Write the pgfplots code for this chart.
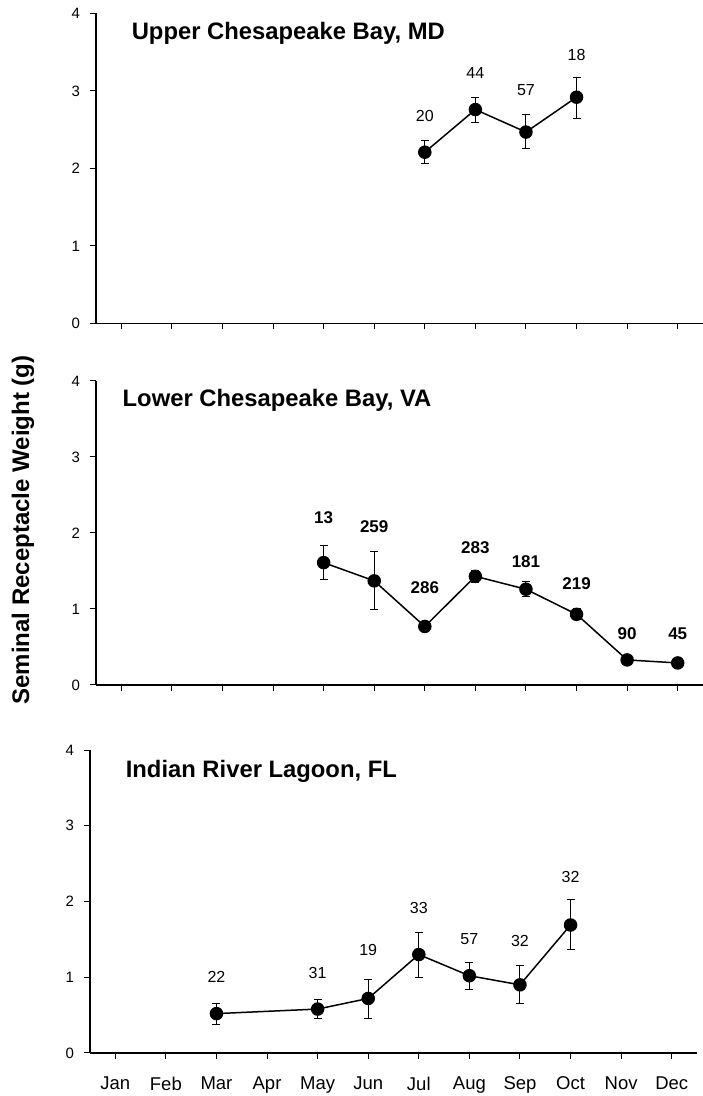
\documentclass[border=0pt]{standalone}
\usepackage{fontspec}
\setmainfont{Liberation Sans}
\usepackage{pgfplots}
\pgfplotsset{compat=1.18}
\usepackage{pgfplotstable}

% month, mean, +err, -err
\pgfplotstableread{
x y ep em
7 2.21 0.15 0.15
8 2.76 0.16 0.17
9 2.47 0.23 0.21
10 2.92 0.25 0.27
}\upperbay
\pgfplotstableread{
x y ep em
5 1.61 0.22 0.22
6 1.37 0.38 0.38
7 0.77 0.03 0.03
8 1.43 0.08 0.08
9 1.26 0.10 0.10
10 0.93 0.08 0.07
11 0.33 0.02 0.02
12 0.29 0.02 0.02
}\lowerbay
\pgfplotstableread{
x y ep em
3 0.52 0.14 0.15
5 0.58 0.12 0.12
6 0.72 0.25 0.26
7 1.30 0.29 0.30
8 1.02 0.17 0.18
9 0.90 0.25 0.24
10 1.69 0.33 0.32
}\indianriver

\pgfplotsset{
  panel/.style={
    scale only axis, width=303.5pt,
    xmin=0.5, xmax=12.5, ymin=0, ymax=4,
    axis x line=bottom, axis y line=left,
    axis line style={-, line width=0.6pt},
    xtick={1,...,12}, ytick={0,1,2,3,4},
    xticklabels={},
    tick align=outside, major tick length=3pt,
    tick style={black, line width=0.5pt},
    /pgf/number format/assume math mode=true,
    yticklabel style={font=\fontsize{7.5}{8}\selectfont, xshift=-1.5pt},
    clip=false,
  },
  series/.style={black, line width=0.75pt, mark=*, mark size=3pt,
    mark options={fill=black, draw=black, solid},
    error bars/.cd, y dir=both, y explicit,
    error bar style={line width=0.5pt, black},
    error mark options={rotate=90, mark size=2pt, line width=0.5pt, black}},
}
\tikzset{
  ttl/.style={anchor=west, inner sep=0pt, font=\bfseries\fontsize{11.9}{13}\selectfont},
  nl/.style={inner sep=0pt, font=\fontsize{8}{9}\selectfont},
  nlb/.style={inner sep=0pt, font=\bfseries\fontsize{8.5}{10}\selectfont},
}

\begin{document}
\begin{tikzpicture}
\useasboundingbox (0,0) rectangle (351pt,548pt);

\begin{axis}[panel, height=155pt, at={(48pt,386.25pt)}, anchor=south west]
\addplot+[series] table[x=x, y=y, y error plus=ep, y error minus=em] {\upperbay};
\node[ttl] at (axis cs:1.2,3.75) {Upper Chesapeake Bay, MD};
\node[nl] at (axis cs:7,2.68) {20};
\node[nl] at (axis cs:8,3.23) {44};
\node[nl] at (axis cs:9,3.01) {57};
\node[nl] at (axis cs:10,3.46) {18};
\end{axis}

\begin{axis}[panel, height=152pt, at={(48pt,205.5pt)}, anchor=south west]
\addplot+[series] table[x=x, y=y, y error plus=ep, y error minus=em] {\lowerbay};
\node[ttl] at (axis cs:1.02,3.74) {Lower Chesapeake Bay, VA};
\node[nlb] at (axis cs:5,2.20) {13};
\node[nlb] at (axis cs:6,2.09) {259};
\node[nlb] at (axis cs:7,1.28) {286};
\node[nlb] at (axis cs:8,1.81) {283};
\node[nlb] at (axis cs:9,1.62) {181};
\node[nlb] at (axis cs:10,1.33) {219};
\node[nlb] at (axis cs:11,0.68) {90};
\node[nlb] at (axis cs:12,0.67) {45};
\end{axis}

\begin{axis}[panel, height=151.5pt, at={(45pt,21.5pt)}, anchor=south west,
  xticklabels={Jan,Feb,Mar,Apr,May,Jun,Jul,Aug,Sep,Oct,Nov,Dec},
  xticklabel style={font=\fontsize{9.25}{10}\selectfont, yshift=-5.5pt}]
\addplot+[series] table[x=x, y=y, y error plus=ep, y error minus=em] {\indianriver};
\node[ttl] at (axis cs:1.2,3.72) {Indian River Lagoon, FL};
\node[nl] at (axis cs:3,1.01) {22};
\node[nl] at (axis cs:5,1.06) {31};
\node[nl] at (axis cs:6,1.36) {19};
\node[nl] at (axis cs:7,1.92) {33};
\node[nl] at (axis cs:8,1.51) {57};
\node[nl] at (axis cs:9,1.48) {32};
\node[nl] at (axis cs:10,2.33) {32};
\end{axis}

\node[rotate=90, font=\bfseries\fontsize{12}{14}\selectfont] at (11.5pt,283pt) {Seminal Receptacle Weight (g)};
\end{tikzpicture}
\end{document}
